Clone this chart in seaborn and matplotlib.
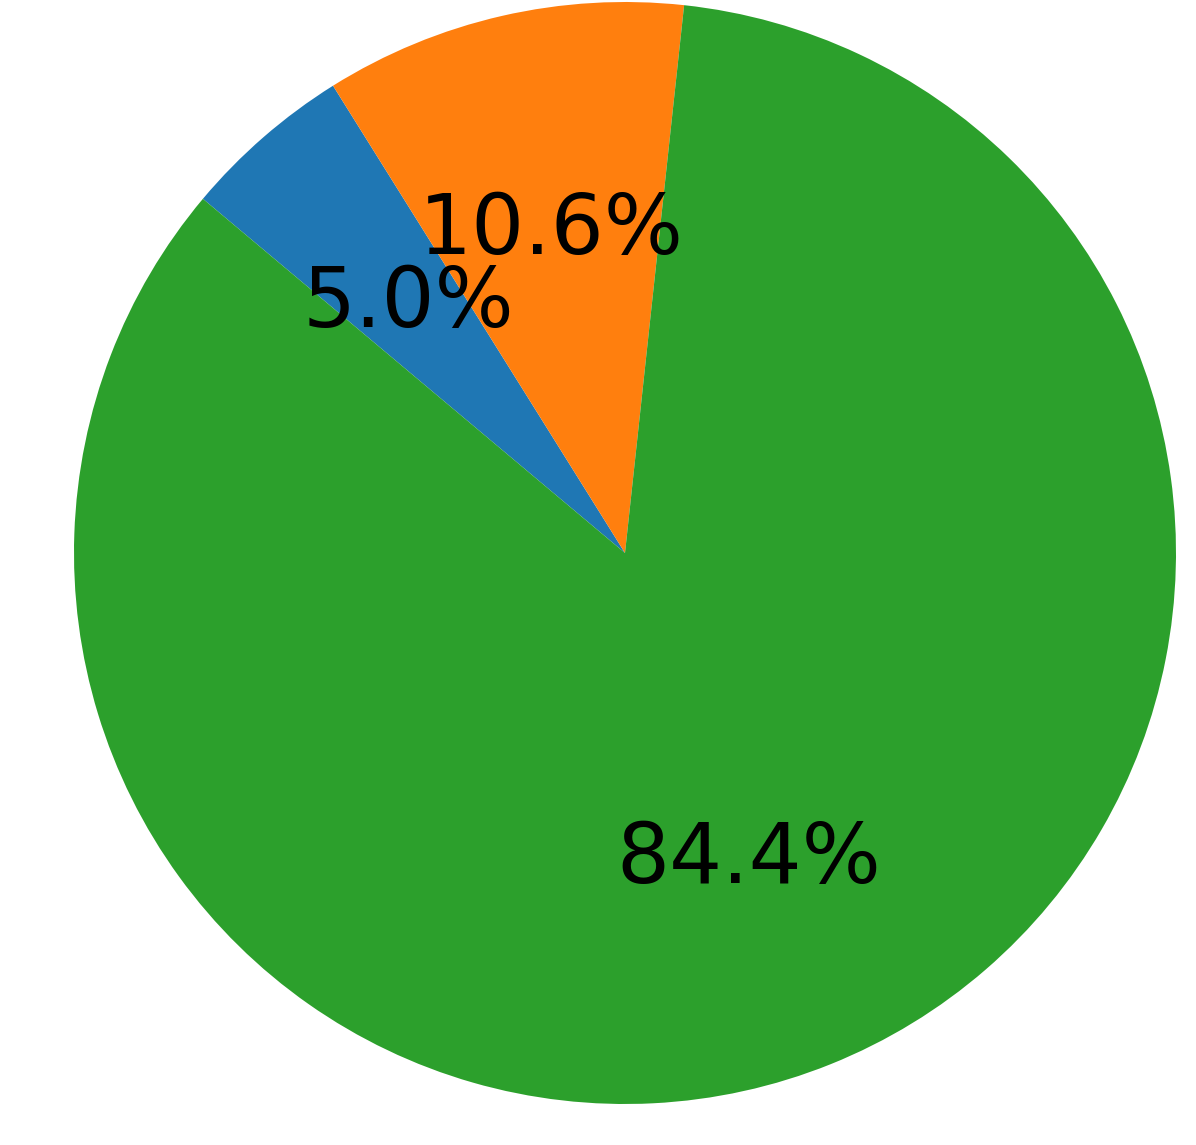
"""
Pie chart of three shares, drawn with matplotlib pie on a seaborn palette.
"""

import matplotlib
matplotlib.use("Agg")
import matplotlib.pyplot as plt
import seaborn as sns

# ── Data ──────────────────────────────────────
SHARES = [5.0, 10.6, 84.4]
COLORS = sns.color_palette("tab10", 3)

# ── Plot ──────────────────────────────────────
def main():
    sns.set_style("white")
    plt.rcParams['font.family'] = ['DejaVu Sans']

    fig = plt.figure(figsize=(11.96, 11.45), dpi=100)
    ax = fig.add_axes([74 / 1196, 41 / 1145, 1102 / 1196, 1102 / 1145])

    ax.pie(SHARES, colors=COLORS, autopct='%1.1f%%', startangle=140,
           counterclock=False, wedgeprops={'linewidth': 0},
           textprops={'fontsize': 60, 'color': 'black'})
    ax.set_xlim(-1, 1)
    ax.set_ylim(-1, 1)
    ax.set_aspect('equal')
    ax.axis('off')

    fig.savefig("out.png", dpi=100)

if __name__ == "__main__":
    main()
